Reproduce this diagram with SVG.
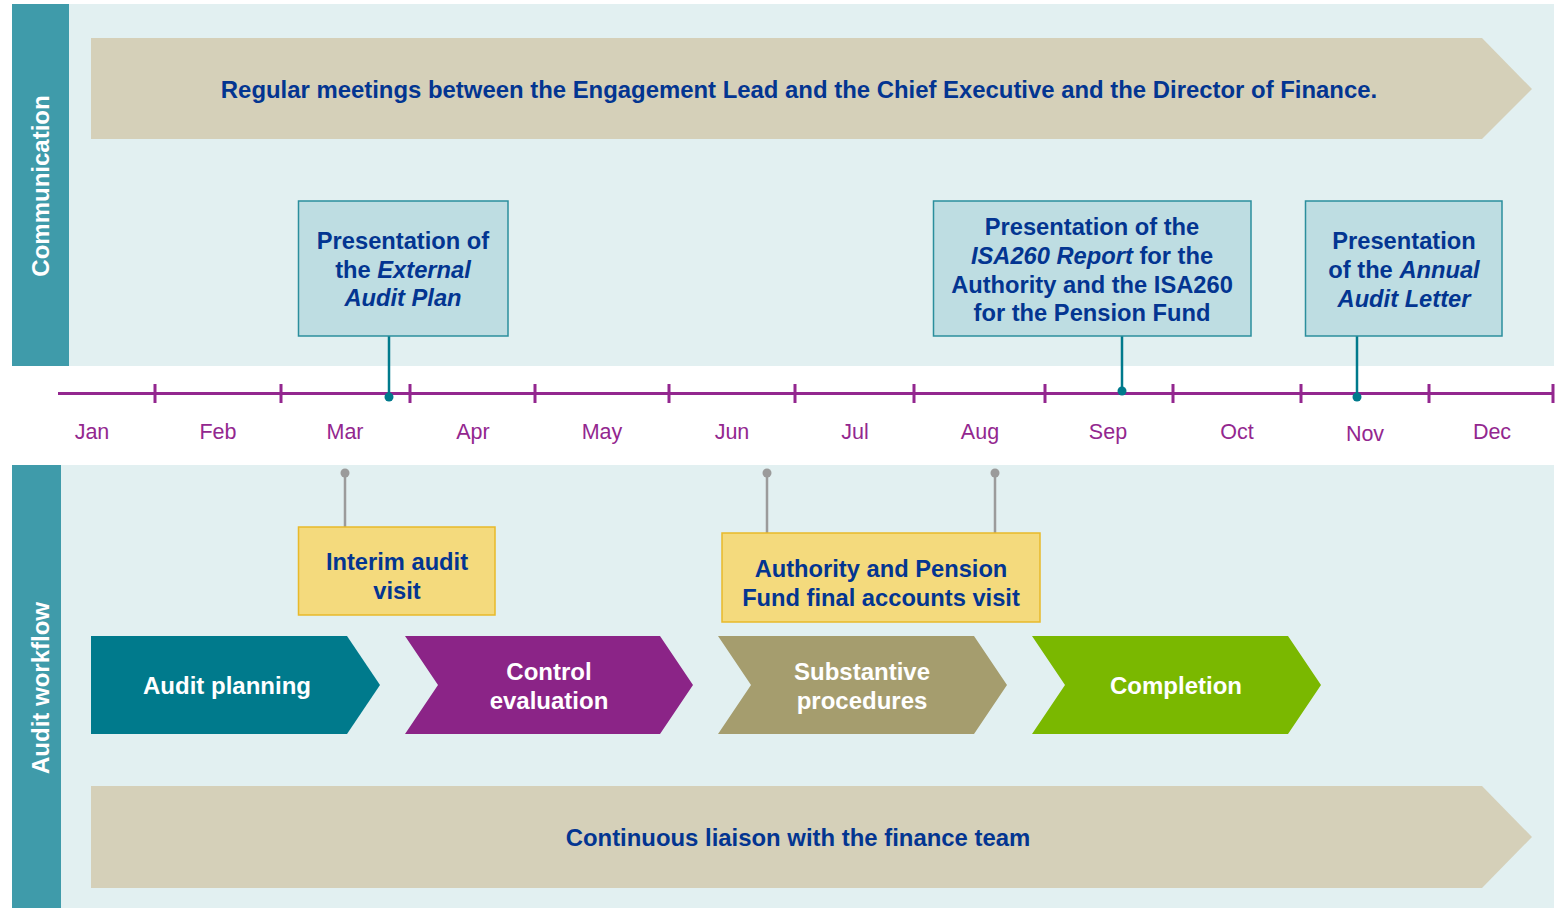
<svg xmlns="http://www.w3.org/2000/svg" width="1563" height="908" viewBox="0 0 1563 908">
<style>
.bg{fill:#E2F0F1}
.side{fill:#3F9BAA}
.sidetxt{font-family:"Liberation Sans",Arial,sans-serif;font-weight:bold;font-size:24px;fill:#fff}
.banner{fill:#D5D0B9}
.t{font-family:"Liberation Sans",Arial,sans-serif;font-weight:bold;font-size:23.7px;fill:#033591;text-anchor:middle}
.bt{font-size:23.9px}
.w{font-family:"Liberation Sans",Arial,sans-serif;font-weight:bold;font-size:24px;fill:#fff;text-anchor:middle}
.blue{fill:#BEDDE2;stroke:#2B8E9D;stroke-width:1.5}
.yel{fill:#F4DA7D;stroke:#E8B92A;stroke-width:1.5}
.mon{font-family:"Liberation Sans",Arial,sans-serif;font-size:21.5px;fill:#93278F;text-anchor:middle}
.tl{stroke:#93278F;stroke-width:3;fill:none}
.tc{stroke:#007A8C;stroke-width:2.5;fill:none}
.gc{stroke:#9B9B9B;stroke-width:2.5;fill:none}
</style>
<rect width="1563" height="908" fill="#fff"/>
<g id="communication-panel">
<rect class="bg" x="69" y="4" width="1485" height="362"/>
<rect class="side" x="12" y="4" width="57" height="362"/>
<text class="sidetxt" transform="translate(49,186) rotate(-90)" text-anchor="middle">Communication</text>
</g>
<g id="workflow-panel">
<rect class="bg" x="61" y="465" width="1493" height="443"/>
<rect class="side" x="12" y="465" width="49" height="443"/>
<text class="sidetxt" transform="translate(49,688) rotate(-90)" text-anchor="middle">Audit workflow</text>
</g>
<g id="banner-meetings">
<polygon class="banner" points="91,38 1482,38 1532,89 1482,139 91,139"/>
<text class="t bt" x="799" y="98">Regular meetings between the Engagement Lead and the Chief Executive and the Director of Finance.</text>
</g>
<g id="timeline">
<line class="tl" x1="58" y1="393.5" x2="1554" y2="393.5"/>
<path class="tl" d="M155,384V403M281,384V403M410,384V403M535,384V403M669,384V403M795,384V403M914,384V403M1045,384V403M1173,384V403M1301,384V403M1429,384V403M1553,384V403"/>
<text class="mon" x="92" y="439">Jan</text>
<text class="mon" x="218" y="439">Feb</text>
<text class="mon" x="345" y="439">Mar</text>
<text class="mon" x="473" y="439">Apr</text>
<text class="mon" x="602" y="439">May</text>
<text class="mon" x="732" y="439">Jun</text>
<text class="mon" x="855" y="439">Jul</text>
<text class="mon" x="980" y="439">Aug</text>
<text class="mon" x="1108" y="439">Sep</text>
<text class="mon" x="1237" y="439">Oct</text>
<text class="mon" x="1365" y="441">Nov</text>
<text class="mon" x="1492" y="439">Dec</text>
</g>
<g id="connectors">
<line class="tc" x1="389" y1="336" x2="389" y2="397"/>
<circle cx="389" cy="397" r="4.5" fill="#007A8C"/>
<line class="tc" x1="1122" y1="336" x2="1122" y2="391"/>
<circle cx="1122" cy="391" r="4.5" fill="#007A8C"/>
<line class="tc" x1="1357" y1="336" x2="1357" y2="397"/>
<circle cx="1357" cy="397" r="4.5" fill="#007A8C"/>
<line class="gc" x1="345" y1="473" x2="345" y2="527"/>
<circle cx="345" cy="473" r="4.5" fill="#9B9B9B"/>
<line class="gc" x1="767" y1="473" x2="767" y2="533"/>
<circle cx="767" cy="473" r="4.5" fill="#9B9B9B"/>
<line class="gc" x1="995" y1="473" x2="995" y2="533"/>
<circle cx="995" cy="473" r="4.5" fill="#9B9B9B"/>
</g>
<g id="box-audit-plan">
<rect class="blue" x="298.5" y="201" width="209.5" height="135"/>
<text class="t" x="403" y="249">Presentation of</text>
<text class="t" x="403" y="278">the <tspan font-style="italic">External</tspan></text>
<text class="t" x="403" y="306" font-style="italic">Audit Plan</text>
</g>
<g id="box-isa260">
<rect class="blue" x="933.5" y="201" width="317.5" height="135"/>
<text class="t" x="1092" y="235">Presentation of the</text>
<text class="t" x="1092" y="264"><tspan font-style="italic">ISA260 Report</tspan> for the</text>
<text class="t" x="1092" y="293">Authority and the ISA260</text>
<text class="t" x="1092" y="321">for the Pension Fund</text>
</g>
<g id="box-annual-letter">
<rect class="blue" x="1305.5" y="201" width="196.5" height="135"/>
<text class="t" x="1404" y="249">Presentation</text>
<text class="t" x="1404" y="278">of the <tspan font-style="italic">Annual</tspan></text>
<text class="t" x="1404" y="307" font-style="italic">Audit Letter</text>
</g>
<g id="box-interim">
<rect class="yel" x="298.5" y="527" width="196.5" height="88"/>
<text class="t" x="397" y="570">Interim audit</text>
<text class="t" x="397" y="599">visit</text>
</g>
<g id="box-final-accounts">
<rect class="yel" x="722" y="533" width="318" height="89"/>
<text class="t" x="881" y="577">Authority and Pension</text>
<text class="t" x="881" y="606">Fund final accounts visit</text>
</g>
<g id="stage-planning">
<polygon fill="#007A8C" points="91,636 347,636 380,685 347,734 91,734"/>
<text class="w" x="227" y="694">Audit planning</text>
</g>
<g id="stage-control">
<polygon fill="#8B2487" points="405,636 660,636 693,685 660,734 405,734 438,685"/>
<text class="w" x="549" y="680">Control</text>
<text class="w" x="549" y="709">evaluation</text>
</g>
<g id="stage-substantive">
<polygon fill="#A59D6E" points="718,636 974,636 1007,685 974,734 718,734 751,685"/>
<text class="w" x="862" y="680">Substantive</text>
<text class="w" x="862" y="709">procedures</text>
</g>
<g id="stage-completion">
<polygon fill="#7AB800" points="1032,636 1288,636 1321,685 1288,734 1032,734 1065,685"/>
<text class="w" x="1176" y="694">Completion</text>
</g>
<g id="banner-liaison">
<polygon class="banner" points="91,786 1482,786 1532,837 1482,888 91,888"/>
<text class="t bt" x="798" y="846">Continuous liaison with the finance team</text>
</g>
</svg>
